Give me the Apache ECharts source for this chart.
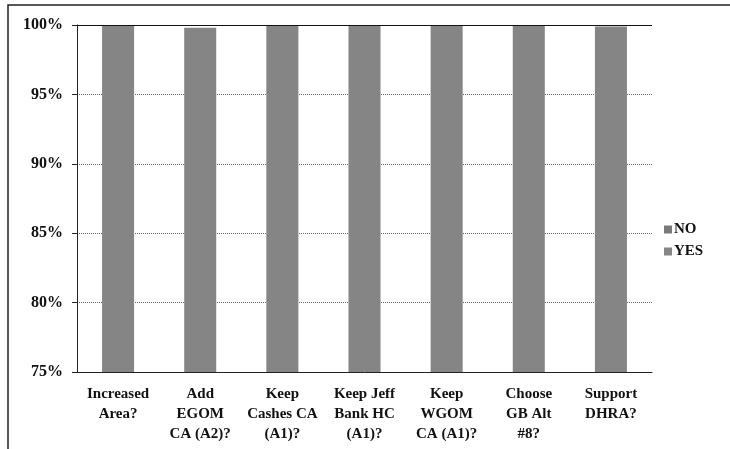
<!DOCTYPE html>
<html>
<head>
<meta charset="utf-8">
<script src="https://cdn.jsdelivr.net/npm/echarts@6/dist/echarts.min.js"></script>
<style>
  html, body { margin: 0; padding: 0; background: #fff; }
  #chart { width: 730px; height: 449px; }
</style>
</head>
<body>
<div id="chart"></div>
<script>
// categories and values (percent of responses)
var categories = ['Increased\nArea?', 'Add\nEGOM\nCA (A2)?', 'Keep\nCashes CA\n(A1)?', 'Keep Jeff\nBank HC\n(A1)?', 'Keep\nWGOM\nCA (A1)?', 'Choose\nGB Alt\n#8?', 'Support\nDHRA?'];
var yesData = [100, 99.8, 100, 100, 100, 100, 99.9];
var noData = [0, 0, 0, 0, 0, 0, 0];
var yTicks = { min: 75, max: 100, step: 5 };

var font = '"Liberation Serif", "DejaVu Serif", serif';
var barColor = '#858585';

var chart = echarts.init(document.getElementById('chart'));
chart.setOption({
    animation: false,
    textStyle: { fontFamily: font },
    graphic: [{
        type: 'rect',
        shape: { x: 8, y: 5, width: 740, height: 460 },
        style: { fill: 'none', stroke: '#222', lineWidth: 1.5 }
    }],
    grid: { left: 77, right: 78, top: 25, bottom: 77 },
    legend: {
        orient: 'vertical',
        left: 659,
        top: 217,
        itemWidth: 8,
        itemHeight: 8,
        itemGap: 7,
        icon: 'rect',
        data: ['NO', 'YES'],
        textStyle: { fontFamily: font, fontWeight: 'bold', fontSize: 15, color: '#111', padding: [0, 0, 0, -3] }
    },
    xAxis: {
        type: 'category',
        data: categories,
        axisLine: { lineStyle: { color: '#222' } },
        axisTick: { length: 5, lineStyle: { color: '#222' } },
        axisLabel: {
            interval: 0,
            color: '#111',
            fontFamily: font,
            fontWeight: 'bold',
            fontSize: 15,
            lineHeight: 20,
            margin: 12
        }
    },
    yAxis: {
        type: 'value',
        min: yTicks.min,
        max: yTicks.max,
        interval: yTicks.step,
        axisLine: { show: true, lineStyle: { color: '#222' } },
        axisTick: { show: true, length: 5, lineStyle: { color: '#222' } },
        splitLine: { lineStyle: { color: '#666', type: 'dotted' } },
        axisLabel: {
            formatter: '{value}%',
            color: '#111',
            fontFamily: font,
            fontWeight: 'bold',
            fontSize: 16,
            margin: 14
        }
    },
    series: [{
        name: 'YES',
        type: 'bar',
        stack: 'total',
        barWidth: '39%',
        itemStyle: { color: barColor },
        data: yesData,
        markLine: {
            silent: true,
            symbol: 'none',
            label: { show: false },
            lineStyle: { color: '#111', type: 'solid', width: 1.2 },
            data: [{ yAxis: yTicks.max }]
        }
    }, {
        name: 'NO',
        type: 'bar',
        stack: 'total',
        itemStyle: { color: '#7a7a7a' },
        data: noData
    }]
});
</script>
</body>
</html>
